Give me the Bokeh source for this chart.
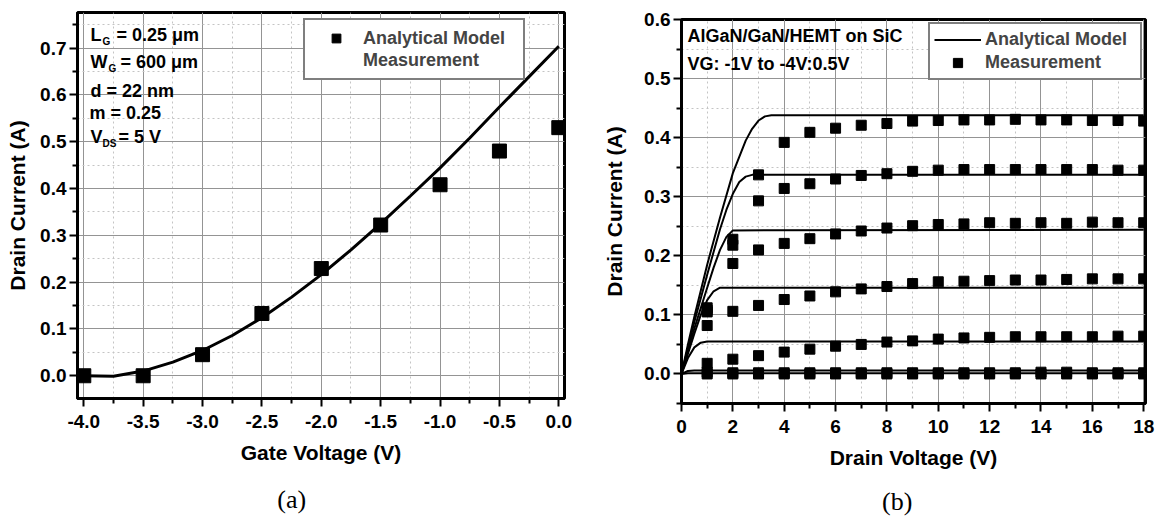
from bokeh.plotting import figure
from bokeh.models import (FixedTicker, PrintfTickFormatter, Label, Legend, LegendItem,
                          Range1d, LinearAxis)
from bokeh.layouts import row
from bokeh.embed import file_html
from bokeh.resources import INLINE

# ---------------- Data: panel (a) transfer characteristic ----------------
gate_v_meas = [-4.0, -3.5, -3.0, -2.5, -2.0, -1.5, -1.0, -0.5, 0.0]
drain_i_meas = [0.0, 0.0, 0.045, 0.133, 0.229, 0.322, 0.408, 0.480, 0.530]

gate_v_model = [-4.0, -3.75, -3.5, -3.25, -3.0, -2.75, -2.5, -2.25, -2.0,
                -1.75, -1.5, -1.25, -1.0, -0.75, -0.5, -0.25, 0.0]
drain_i_model = [0.000, -0.001, 0.010, 0.029, 0.054, 0.086, 0.124, 0.168, 0.216,
                 0.269, 0.325, 0.384, 0.444, 0.508, 0.574, 0.639, 0.704]

gate_ticks = [-4.0, -3.5, -3.0, -2.5, -2.0, -1.5, -1.0, -0.5, 0.0]
gate_minor = [-3.75, -3.25, -2.75, -2.25, -1.75, -1.25, -0.75, -0.25]
current_ticks_a = [0.0, 0.1, 0.2, 0.3, 0.4, 0.5, 0.6, 0.7]
current_minor_a = [-0.05, 0.05, 0.15, 0.25, 0.35, 0.45, 0.55, 0.65, 0.75]

# ---------------- Data: panel (b) output characteristics ----------------
vd_meas = [1, 2, 3, 4, 5, 6, 7, 8, 9, 10, 11, 12, 13, 14, 15, 16, 17, 18]
id_meas_vg_m1p0 = [0.112, 0.228, 0.337, 0.392, 0.409, 0.416, 0.421, 0.424, 0.428,
                   0.429, 0.430, 0.430, 0.431, 0.430, 0.430, 0.429, 0.429, 0.428]
id_meas_vg_m1p5 = [0.108, 0.218, 0.293, 0.314, 0.322, 0.330, 0.336, 0.339, 0.343,
                   0.345, 0.346, 0.346, 0.346, 0.346, 0.346, 0.346, 0.345, 0.345]
id_meas_vg_m2p0 = [0.105, 0.187, 0.210, 0.221, 0.229, 0.237, 0.242, 0.247, 0.251,
                   0.253, 0.254, 0.256, 0.255, 0.256, 0.255, 0.257, 0.256, 0.256]
id_meas_vg_m2p5 = [0.082, 0.106, 0.116, 0.126, 0.132, 0.139, 0.144, 0.148, 0.153,
                   0.156, 0.157, 0.158, 0.159, 0.159, 0.160, 0.161, 0.161, 0.161]
id_meas_vg_m3p0 = [0.018, 0.025, 0.031, 0.037, 0.042, 0.047, 0.050, 0.054, 0.056,
                   0.059, 0.061, 0.062, 0.063, 0.063, 0.063, 0.063, 0.064, 0.064]
id_meas_vg_m3p5 = [0.003, 0.002, 0.002, 0.002, 0.002, 0.002, 0.002, 0.002, 0.002,
                   0.002, 0.002, 0.002, 0.002, 0.003, 0.003, 0.002, 0.002, 0.002]
id_meas_vg_m4p0 = [0.0, 0.0, 0.0, 0.0, 0.0, 0.0, 0.0, 0.0, 0.0,
                   0.0, 0.0, 0.0, 0.0, 0.0, 0.0, 0.0, 0.0, 0.0]

vd_model_vg_m1p0 = [0.0, 0.25, 0.5, 1.0, 1.5, 2.0, 2.5, 2.75, 3.0, 3.25, 3.5, 18.0]
id_model_vg_m1p0 = [0.0, 0.050, 0.097, 0.185, 0.265, 0.340, 0.395, 0.415, 0.429, 0.436, 0.438, 0.438]
vd_model_vg_m1p5 = [0.0, 0.5, 1.0, 1.5, 1.75, 2.0, 2.25, 2.5, 2.75, 18.0]
id_model_vg_m1p5 = [0.0, 0.088, 0.168, 0.245, 0.278, 0.305, 0.325, 0.334, 0.337, 0.337]
vd_model_vg_m2p0 = [0.0, 0.5, 1.0, 1.25, 1.5, 1.75, 2.0, 18.0]
id_model_vg_m2p0 = [0.0, 0.077, 0.146, 0.180, 0.210, 0.232, 0.243, 0.244]
vd_model_vg_m2p5 = [0.0, 0.5, 0.75, 1.0, 1.25, 1.5, 18.0]
id_model_vg_m2p5 = [0.0, 0.068, 0.100, 0.125, 0.140, 0.146, 0.146]
vd_model_vg_m3p0 = [0.0, 0.25, 0.5, 0.75, 1.0, 18.0]
id_model_vg_m3p0 = [0.0, 0.027, 0.045, 0.053, 0.055, 0.055]
vd_model_vg_m3p5 = [0.0, 0.25, 0.5, 18.0]
id_model_vg_m3p5 = [0.0, 0.005, 0.006, 0.006]
vd_model_vg_m4p0 = [0.0, 0.25, 18.0]
id_model_vg_m4p0 = [0.0, 0.001, 0.001]

drain_ticks = [0, 2, 4, 6, 8, 10, 12, 14, 16, 18]
drain_minor = [1, 3, 5, 7, 9, 11, 13, 15, 17]
current_ticks_b = [0.0, 0.1, 0.2, 0.3, 0.4, 0.5, 0.6]
current_minor_b = [-0.05, 0.05, 0.15, 0.25, 0.35, 0.45, 0.55]

FONT = "Liberation Sans"
SERIF = "Liberation Serif"
TICK_FS = "19px"
TITLE_FS = "21px"
NOTE_FS = "18px"
SUB_FS = "10px"
CAP_FS = "26px"
NBSP = "\u00a0"
H = 520


def style(p, xt, xm, yt, ym, xfmt, yfmt):
    xtk = FixedTicker(ticks=xt, minor_ticks=xm)
    ytk = FixedTicker(ticks=yt, minor_ticks=ym)
    p.xaxis[0].ticker = xtk
    p.xgrid[0].ticker = xtk
    p.yaxis[0].ticker = ytk
    p.ygrid[0].ticker = ytk
    p.xaxis[0].formatter = PrintfTickFormatter(format=xfmt)
    p.yaxis[0].formatter = PrintfTickFormatter(format=yfmt)
    p.outline_line_color = "black"
    p.outline_line_width = 3
    p.outline_line_alpha = 1
    p.background_fill_color = "white"
    p.border_fill_color = "white"
    for ax in (p.xaxis[0], p.yaxis[0]):
        ax.axis_line_width = 3
        ax.axis_line_color = "black"
        ax.major_tick_line_width = 2
        ax.minor_tick_line_width = 2
        ax.major_tick_in = 0
        ax.major_tick_out = 8
        ax.minor_tick_in = 0
        ax.minor_tick_out = 5
        ax.major_label_text_font = FONT
        ax.major_label_text_font_style = "bold"
        ax.major_label_text_font_size = TICK_FS
        ax.major_label_text_color = "black"
        ax.axis_label_text_font = FONT
        ax.axis_label_text_font_style = "bold"
        ax.axis_label_text_font_size = TITLE_FS
        ax.axis_label_text_color = "black"
    p.xaxis[0].major_label_standoff = 8
    p.yaxis[0].major_label_standoff = 3
    p.xaxis[0].axis_label_standoff = 10
    p.yaxis[0].axis_label_standoff = 8
    for g in (p.xgrid[0], p.ygrid[0]):
        g.grid_line_color = "#949494"
        g.grid_line_width = 1
        g.minor_grid_line_color = "#c4c4c4"
        g.minor_grid_line_dash = "2 3"
        g.minor_grid_line_width = 1


def caption(p, text, standoff):
    cap = LinearAxis(ticker=FixedTicker(ticks=[]), axis_label=text,
                     axis_line_color=None, major_tick_line_color=None,
                     minor_tick_line_color=None, major_tick_out=0, minor_tick_out=0,
                     major_tick_in=0, minor_tick_in=0, major_label_standoff=0,
                     axis_label_standoff=standoff, axis_label_text_font=SERIF,
                     axis_label_text_font_style="normal", axis_label_text_font_size=CAP_FS,
                     axis_label_text_color="black")
    p.add_layout(cap, "below")


def note(p, fx, fy, px, py, text, size=NOTE_FS):
    p.add_layout(Label(x=fx(px), y=fy(py), text=text, text_font=FONT, text_font_style="bold",
                       text_font_size=size, text_baseline="middle", text_align="left",
                       text_color="black"))


# ---------------- Panel (a) ----------------
ax0, ax1 = -4.053, 0.048
ay0, ay1 = -0.0486, 0.776
A_L, A_R, A_T, A_B = 77, 564, 12, 398
p1 = figure(width=590, height=H, x_range=Range1d(ax0, ax1), y_range=Range1d(ay0, ay1),
            output_backend="svg", toolbar_location=None, frame_align=False,
            min_border_left=A_L, min_border_right=590 - A_R, min_border_top=A_T,
            min_border_bottom=H - A_B,
            x_axis_label="Gate Voltage (V)", y_axis_label="Drain Current (A)")
style(p1, gate_ticks, gate_minor, current_ticks_a, current_minor_a, "%.1f", "%.1f")

model_a = p1.line(gate_v_model, drain_i_model, line_color="black", line_width=3)
meas_a = p1.scatter(gate_v_meas, drain_i_meas, marker="square", size=14,
                    fill_color="black", line_color="black")
empty_a = p1.line(x=[], y=[], line_alpha=0)

leg_a = Legend(items=[LegendItem(label="Analytical Model", renderers=[meas_a]),
                      LegendItem(label="Measurement", renderers=[empty_a])],
               location=(226, 318), padding=7, spacing=0, glyph_width=48, glyph_height=22,
               label_height=22, label_width=153, label_standoff=3, margin=0,
               border_line_color="black", border_line_width=2,
               background_fill_color="white", background_fill_alpha=1,
               label_text_font=FONT, label_text_font_style="bold", label_text_font_size=NOTE_FS)
p1.add_layout(leg_a)


def a_x(px):
    return ax0 + (px - A_L) / (A_R - A_L) * (ax1 - ax0)


def a_y(py):
    return ay1 - (py - A_T) / (A_B - A_T) * (ay1 - ay0)


note(p1, a_x, a_y, 90, 34, "L")
note(p1, a_x, a_y, 102, 41, "G", SUB_FS)
note(p1, a_x, a_y, 116, 34, "= 0.25 μm")
note(p1, a_x, a_y, 90, 61, "W")
note(p1, a_x, a_y, 108, 68, "G", SUB_FS)
note(p1, a_x, a_y, 120, 61, "= 600 μm")
note(p1, a_x, a_y, 90, 90, "d = 22 nm")
note(p1, a_x, a_y, 89, 112, "m = 0.25")
note(p1, a_x, a_y, 90, 136, "V")
note(p1, a_x, a_y, 102, 143, "DS", SUB_FS)
note(p1, a_x, a_y, 118, 136, "= 5 V")

caption(p1, "(a)" + NBSP * 9, 18)

# ---------------- Panel (b) ----------------
bx0, bx1 = 0.0, 18.07
by0, by1 = -0.05, 0.6
B_L, B_R, B_T, B_B = 681 - 590, 1145 - 590, 19, 403
p2 = figure(width=568, height=H, x_range=Range1d(bx0, bx1), y_range=Range1d(by0, by1),
            output_backend="svg", toolbar_location=None, frame_align=False,
            min_border_left=B_L, min_border_right=568 - B_R, min_border_top=B_T,
            min_border_bottom=H - B_B,
            x_axis_label="Drain Voltage (V)", y_axis_label="Drain Current (A)")
style(p2, drain_ticks, drain_minor, current_ticks_b, current_minor_b, "%d", "%.1f")
p2.yaxis[0].axis_label_standoff = 15

model_pairs = [(vd_model_vg_m1p0, id_model_vg_m1p0), (vd_model_vg_m1p5, id_model_vg_m1p5),
               (vd_model_vg_m2p0, id_model_vg_m2p0), (vd_model_vg_m2p5, id_model_vg_m2p5),
               (vd_model_vg_m3p0, id_model_vg_m3p0), (vd_model_vg_m3p5, id_model_vg_m3p5),
               (vd_model_vg_m4p0, id_model_vg_m4p0)]
model_r = []
for xs, ys in model_pairs:
    model_r.append(p2.line(xs, ys, line_color="black", line_width=2))

meas_r = []
for ys in [id_meas_vg_m1p0, id_meas_vg_m1p5, id_meas_vg_m2p0, id_meas_vg_m2p5,
           id_meas_vg_m3p0, id_meas_vg_m3p5, id_meas_vg_m4p0]:
    meas_r.append(p2.scatter(vd_meas, ys, marker="square", size=10,
                             fill_color="black", line_color="black"))

leg_b = Legend(items=[LegendItem(label="Analytical Model", renderers=[model_r[0]]),
                      LegendItem(label="Measurement", renderers=[meas_r[0]])],
               location="top_right", padding=4, spacing=0, glyph_width=47, glyph_height=23,
               label_height=23, label_width=151, label_standoff=4, margin=3,
               border_line_color="black", border_line_width=2,
               background_fill_color="white", background_fill_alpha=1,
               label_text_font=FONT, label_text_font_style="bold", label_text_font_size=NOTE_FS)
p2.add_layout(leg_b)


def b_x(px):
    return bx0 + (px - 681) / (1145 - 681) * (bx1 - bx0)


def b_y(py):
    return by1 - (py - 19) / (403 - 19) * (by1 - by0)


note(p2, b_x, b_y, 687, 35, "AlGaN/GaN/HEMT on SiC")
note(p2, b_x, b_y, 687, 63, "VG: -1V to -4V:0.5V")

caption(p2, "(b)" + NBSP * 5, 15)

layout = row(p1, p2)
open("out.html", "w").write(file_html(layout, INLINE))
